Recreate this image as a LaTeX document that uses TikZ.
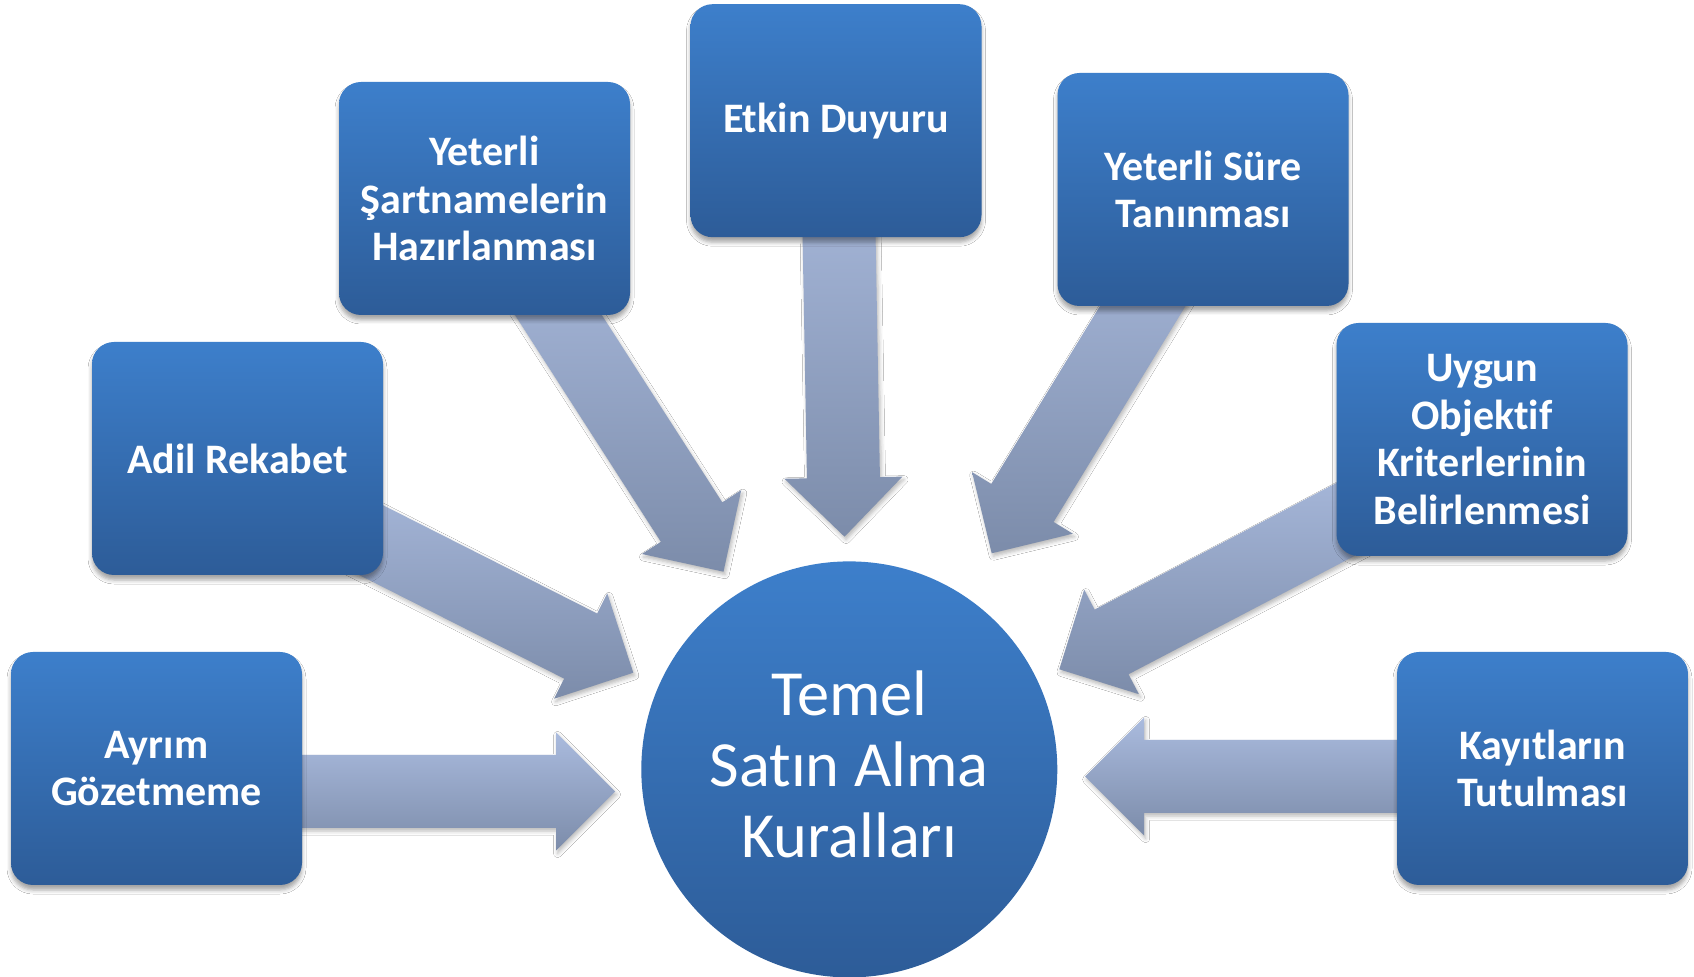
\documentclass[tikz,border=0pt]{standalone}
\usepackage{fontspec}
\setmainfont{Carlito}[Ligatures={NoCommon}]
\usetikzlibrary{calc,shadows.blur}
\definecolor{boxtop}{RGB}{61,127,203}
\definecolor{boxbot}{RGB}{45,92,152}
\definecolor{arrtop}{RGB}{170,187,222}
\definecolor{arrbot}{RGB}{124,140,170}
\tikzset{
  rulebox/.style={rectangle, rounded corners=11pt, inner sep=0pt,
    minimum width=145.5pt, minimum height=116.5pt,
    top color=boxtop, bottom color=boxbot, text=white, align=center,
    font=\bfseries\fontsize{21}{23.75}\selectfont,
    blur shadow={shadow xshift=0pt, shadow yshift=-2.5pt, shadow blur radius=2pt, shadow opacity=35}},
  hubcircle/.style={circle, inner sep=0pt, minimum size=208pt,
    top color=boxtop, bottom color=boxbot},
  hubtextstyle/.style={inner sep=0pt, text=white, align=center,
    font=\fontsize{32.2}{35.4}\selectfont},
  blockarrowstyle/.style={top color=arrtop, bottom color=arrbot,
    blur shadow={shadow xshift=0.8pt, shadow yshift=-1.5pt, shadow blur radius=2pt, shadow opacity=28}}
}
\newcommand\bigarrow[2]{%
  \coordinate (tmpB) at ($(#2)!29.5pt!(#1)$);
  \path[blockarrowstyle] ($(#1)!18.25pt!90:(#2)$) -- ($(tmpB)!18.25pt!90:(#2)$)
    -- ($(tmpB)!29.5pt!90:(#2)$) -- (#2) -- ($(tmpB)!29.5pt!-90:(#2)$)
    -- ($(tmpB)!18.25pt!-90:(#2)$) -- ($(#1)!18.25pt!-90:(#2)$) -- cycle;}
\begin{document}
\begin{tikzpicture}[x=0.5pt,y=-0.5pt]
\useasboundingbox (0,0) rectangle (1694,977);
\fill[white] (0,0) rectangle (1694,977);
% arrow anchor points
\coordinate (s1) at (200,791.5);   \coordinate (t1) at (615,791.5);
\coordinate (s2) at (276.5,492.3); \coordinate (t2) at (633.3,672.7);
\coordinate (s3) at (507.1,235.3); \coordinate (t3) at (723.5,571.7);
\coordinate (s4) at (837.5,150);   \coordinate (t4) at (844.5,536.7);
\coordinate (s5) at (1200.1,212.1);\coordinate (t5) at (991.7,553.3);
\coordinate (s6) at (1413.7,483.7);\coordinate (t6) at (1059.3,669.3);
\coordinate (s7) at (1500,776.5);  \coordinate (t7) at (1085,776.5);
\bigarrow{s1}{t1}
\bigarrow{s2}{t2}
\bigarrow{s3}{t3}
\bigarrow{s4}{t4}
\bigarrow{s5}{t5}
\bigarrow{s6}{t6}
\bigarrow{s7}{t7}
% boxes
\node[rulebox] (ayrim) at (156.5,768.5) {Ayrım\\Gözetmeme};
\node[rulebox] (adil) at (237.5,458.5) {Adil Rekabet};
\node[rulebox] (sart) at (484.5,198.5) {Yeterli\\Şartnamelerin\\Hazırlanması};
\node[rulebox] (etkin) at (836,120.7) {Etkin Duyuru};
\node[rulebox] (sure) at (1203,189.5) {Yeterli Süre\\Tanınması};
\node[rulebox] (uygun) at (1482,439.5) {Uygun\\Objektif\\Kriterlerinin\\Belirlenmesi};
\node[rulebox] (kayit) at (1542.5,768.5) {Kayıtların\\Tutulması};
% hub
\node[hubcircle] (hub) at (849.3,769.4) {};
\node[hubtextstyle] (hubtext) at ([yshift=2.4pt]hub.center) {Temel\\Satın Alma\\Kuralları};
\end{tikzpicture}
\end{document}
